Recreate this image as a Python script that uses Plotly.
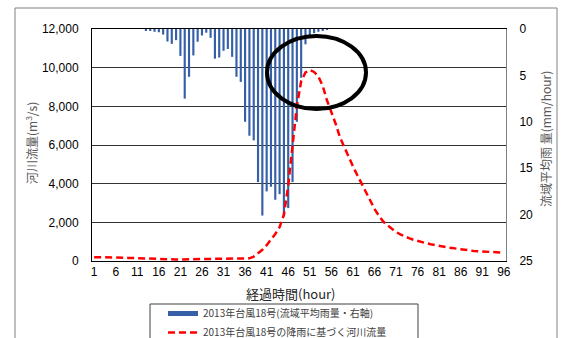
import plotly.graph_objects as go

# ---- data -------------------------------------------------------------
hours = list(range(1, 97))

# basin-average rainfall (mm/hour), right axis, hanging from the top
rain = [
    0, 0, 0, 0, 0, 0, 0, 0, 0, 0, 0, 0,
    0.15, 0.2, 0.3, 0.35, 0.6, 1.35, 1.6, 1.2, 2.9, 7.5, 5.15, 2.85,
    1.37, 0.7, 0.4, 0.95, 3.2, 3.07, 2.35, 2.15, 3.0, 5.15, 5.7, 10.0,
    11.5, 12.0, 16.5, 20.1, 17.5, 17.0, 18.4, 17.8, 20.2, 19.3, 16.5, 10.0,
    5.25, 1.65, 0.65, 0.45, 0.3, 0.12, 0.05, 0, 0, 0, 0, 0,
    0, 0, 0, 0, 0, 0, 0, 0, 0, 0, 0, 0,
    0, 0, 0, 0, 0, 0, 0, 0, 0, 0, 0, 0,
    0, 0, 0, 0, 0, 0, 0, 0, 0, 0, 0, 0,
]

# river discharge (m3/s), left axis
flow = [
    200, 200, 195, 195, 190, 185, 180, 170, 160, 150, 140, 130,
    120, 110, 100, 95, 90, 85, 80, 80, 80, 85, 90, 95,
    100, 100, 100, 100, 100, 100, 100, 100, 100, 105, 110, 115,
    140, 230, 400, 580, 820, 1100, 1400, 1750, 2400, 3900, 5900, 8000,
    9300, 9750, 9880, 9780, 9550, 9050, 8300, 7750, 7100, 6400, 5900, 5350,
    4900, 4450, 4000, 3550, 3100, 2700, 2350, 2050, 1850, 1650, 1500, 1380,
    1270, 1180, 1100, 1030, 970, 920, 870, 820, 780, 740, 700, 670,
    630, 600, 570, 550, 520, 500, 490, 475, 460, 450, 440, 430,
]

x_ticks = list(range(1, 97, 5))
flow_ticks = [0, 2000, 4000, 6000, 8000, 10000, 12000]
rain_ticks = [0, 5, 10, 15, 20, 25]

rain_name = "2013年台風18号(流域平均雨量・右軸)"
flow_name = "2013年台風18号の降雨に基づく河川流量"
x_title = "経過時間(hour)"
flow_title = "河川流量(m<sup>3</sup>/s)"
rain_title = "流域平均雨 量(mm/hour)"

# ---- figure geometry (pixels) ----------------------------------------
W, H = 566, 338
ML, MR, MT, MB = 92, 60, 29, 77
PW, PH = W - ML - MR, H - MT - MB


def px(xp):
    return (xp - ML) / PW


def py(yp):
    return (H - MB - yp) / PH


BLUE = "#3560A8"
NUM_FONT = dict(family="Liberation Sans, Arial, sans-serif", size=12, color="#000000")
JP = "Noto Sans CJK JP"

fig = go.Figure()

fig.add_trace(go.Bar(
    x=hours, y=rain, yaxis="y", marker=dict(color=BLUE, line_width=0),
    name=rain_name, showlegend=False,
))
# legend swatch for the rainfall bars
fig.add_trace(go.Scatter(
    x=[None], y=[None], mode="lines", line=dict(color=BLUE, width=5),
    name=rain_name, yaxis="y",
))
fig.add_trace(go.Scatter(
    x=hours, y=flow, yaxis="y2", mode="lines",
    line=dict(color="#FF0000", width=2.5, dash="7px,4px"),
    name=flow_name,
))

fig.update_layout(
    width=W, height=H,
    margin=dict(l=ML, r=MR, t=MT, b=MB, pad=0, autoexpand=False),
    paper_bgcolor="white", plot_bgcolor="white",
    bargap=0.5,
    showlegend=True,
    legend=dict(
        xref="container", yref="container",
        x=163 / W, y=(H - 299) / H, xanchor="left", yanchor="top",
        font=dict(family=JP, size=10, color="#404040"),
        bgcolor="rgba(0,0,0,0)", borderwidth=0, tracegroupgap=0,
        itemwidth=30,
    ),
    xaxis=dict(
        range=[0.5, 96.5], tickmode="array", tickvals=x_ticks,
        ticks="", showgrid=False, zeroline=False, automargin=False,
        showline=True, linecolor="#000000", linewidth=1, mirror=True,
        tickfont=NUM_FONT,
    ),
    yaxis=dict(
        side="right", range=[25, 0], tickmode="array", tickvals=rain_ticks,
        showgrid=False, zeroline=False, ticks="", automargin=False,
        showline=True, linecolor="#808080", linewidth=1,
        tickfont=NUM_FONT, ticklabelstandoff=10,
    ),
    yaxis2=dict(
        side="left", overlaying="y", range=[0, 12000], tickmode="array",
        tickvals=flow_ticks, tickformat=",", ticks="", automargin=False,
        showgrid=True, gridcolor="#333333", gridwidth=1, zeroline=False,
        showline=True, linecolor="#000000", linewidth=1,
        tickfont=NUM_FONT, ticklabelstandoff=10,
    ),
    annotations=[
        dict(text=x_title, xref="paper", yref="paper", x=px(291), y=py(293),
             showarrow=False, xanchor="center", yanchor="middle",
             font=dict(family=JP, size=13, color="#262626")),
        dict(text=flow_title, xref="paper", yref="paper", x=px(31), y=py(143),
             showarrow=False, xanchor="center", yanchor="middle", textangle=-90,
             font=dict(family=JP, size=12, color="#595959")),
        dict(text=rain_title, xref="paper", yref="paper", x=px(545), y=py(139),
             showarrow=False, xanchor="center", yanchor="middle", textangle=-90,
             font=dict(family=JP, size=12, color="#595959")),
    ],
    shapes=[
        # chart frame
        dict(type="rect", xref="paper", yref="paper",
             x0=px(15), x1=px(557), y0=py(370), y1=py(8),
             line=dict(color="#808080", width=1), layer="below"),
        # legend frame
        dict(type="rect", xref="paper", yref="paper",
             x0=px(150), x1=px(418), y0=py(360), y1=py(304),
             line=dict(color="#404040", width=1), layer="below"),
        # highlight around the discharge peak
        dict(type="circle", xref="paper", yref="paper",
             x0=px(267), x1=px(366), y0=py(109), y1=py(36),
             line=dict(color="#000000", width=4), layer="above"),
    ],
)

fig.write_html("out.html")
